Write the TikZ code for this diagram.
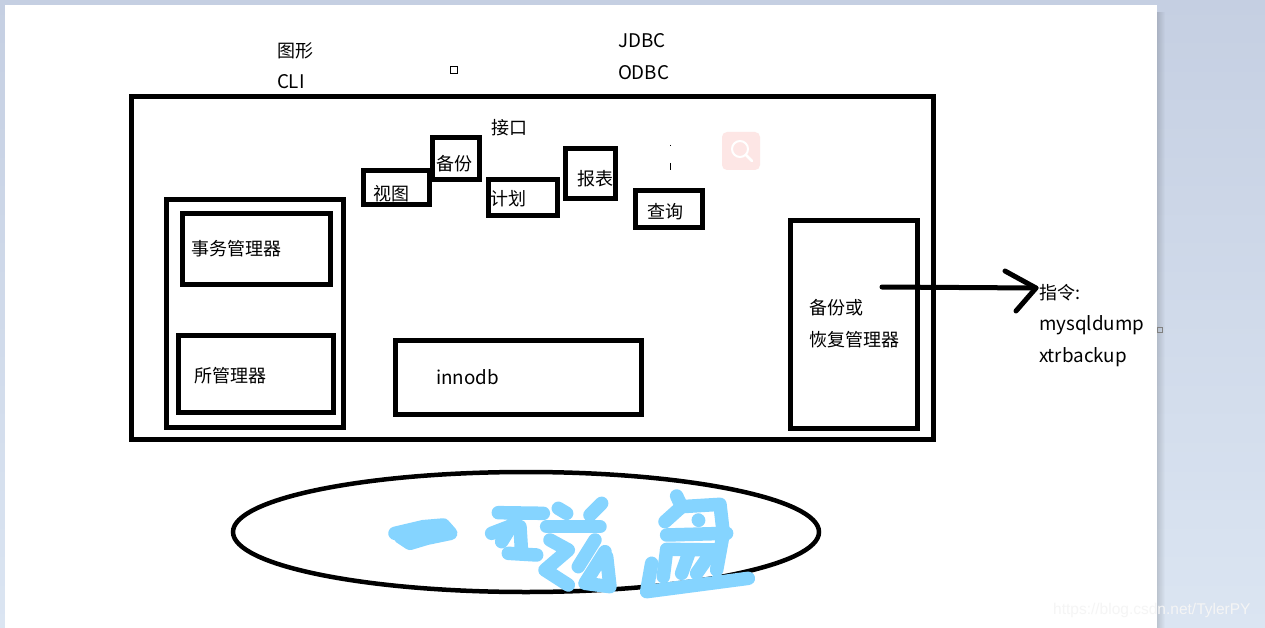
\documentclass[tikz,border=0pt]{standalone}
\usepackage{fontspec}
\setmainfont{Noto Sans CJK SC}
\newfontfamily\wmfont{Liberation Sans}
\definecolor{bgtop}{HTML}{C5CFE2}
\definecolor{bgbot}{HTML}{DBE5F2}
\definecolor{stroke}{HTML}{85D4FF}
\definecolor{pinkbg}{HTML}{FDE6E5}
\tikzset{
  boxn/.style={draw=black,rectangle,inner sep=0pt,outer sep=0pt,line width=#1},
  boxn/.default=5pt,
  lbl/.style={anchor=west,inner sep=0pt,outer sep=0pt,font=\fontsize{18}{18}\selectfont,text=black},
  lat/.style={lbl,font=\fontsize{18.8}{18.8}\selectfont},
  brush/.style={draw=stroke,line width=13.5pt,line cap=round,line join=round},
  pen/.style={draw=black,line width=5pt,line cap=round,line join=round},
}
\newcommand{\pbox}[6]{\node[boxn=#6,minimum width={(#4-#2)*1pt},minimum height={(#5-#3)*1pt}] (#1) at ({(#2+#4)/2},{(#3+#5)/2}) {};}
\begin{document}
\begin{tikzpicture}[x=1pt,y=-1pt]
\useasboundingbox (0,0) rectangle (1265,628);
% window background
\fill[top color=bgtop,bottom color=bgbot] (0,0) rectangle (1265,628);
\fill[white] (5,5) rectangle (1157,628);
\foreach \i in {0,...,7}{
  \fill[black,opacity={0.14*(8-\i)/8}] ({1157+\i},12) rectangle ({1158+\i},628);
}
% boxes
\pbox{outer}{131.5}{97}{933}{439}{5pt}
\pbox{left}{166}{199.5}{343.5}{427.5}{5pt}
\pbox{txn}{182.5}{213.5}{330.5}{284.5}{5pt}
\pbox{lock}{178.5}{335.5}{333.5}{412.5}{5pt}
\pbox{inno}{395.5}{340.5}{641.5}{414}{5pt}
\pbox{backup}{790.5}{220.5}{917.5}{428.5}{5pt}
\pbox{view}{363.5}{170.5}{429.5}{204.5}{5pt}
\pbox{bak}{432.5}{137.5}{479}{179.5}{5pt}
\pbox{plan}{488}{179.5}{557.5}{215.5}{5pt}
\pbox{report}{565.5}{148.5}{615.5}{198.5}{5pt}
\pbox{query}{635.5}{190.5}{702.5}{228}{5pt}
% disk ellipse
\draw[black,line width=4.5pt] (526,532) ellipse [x radius=293,y radius=60];
% labels
\node[lbl] (t1) at (277,50.5) {图形};
\node[lat] (t2) at (277,82) {CLI};
\node[lat] (t3) at (618,41) {JDBC};
\node[lat] (t4) at (618,73) {ODBC};
\node[lbl] (t5) at (491,128) {接口};
\node[lbl] (t6) at (373,194) {视图};
\node[lbl] (t7) at (436,164) {备份};
\node[lbl] (t8) at (490,199) {计划};
\node[lbl] (t9) at (577,179) {报表};
\node[lbl] (t10) at (647,212) {查询};
\node[lbl] (t11) at (191,249) {事务管理器};
\node[lbl] (t12) at (194,376) {所管理器};
\node[lat] (t13) at (436,377) {innodb};
\node[lbl] (t14) at (809,308) {备份或};
\node[lbl] (t15) at (809,340) {恢复管理器};
\node[lbl] (t16) at (1039,293) {指令:};
\node[lat] (t17) at (1039,325) {mysqldump};
\node[lat] (t18) at (1039,357) {xtrbackup};
% hand-drawn arrow
\coordinate (as) at (882,287);
\coordinate (ae) at (1036,288);
\coordinate (h1) at (1005,271);
\coordinate (h2) at (1016,311);
\draw[pen] (as) -- (ae);
\draw[pen] (h1) -- (ae) -- (h2);
% small marks
\draw[black,line width=1pt] (450,67) rectangle (457,74);
\draw[gray,line width=1pt] (1157,327) rectangle (1162,332);
\draw[black,line width=.8pt] (670,145) -- (670,146) (670,163) -- (670,170);
% pink search badge
\fill[pinkbg] (722,132) [rounded corners=5pt] rectangle (760,170);
\draw[white,line width=2pt] (740,149) circle [radius=8];
\draw[white,line width=2.5pt,line cap=round] (746,155) -- (752,161);
% brush strokes, in zoom-crop units
\begin{scope}[shift={(380,470)},x=.3333pt,y=-.3333pt]
\draw[brush] (45,190) -- (130,170) -- (190,165) -- (212,190) -- (140,205) -- (90,220) -- (60,200) -- (120,185);
\draw[brush] (355,128) -- (490,130);
\draw[brush] (335,190) -- (400,165);
\draw[brush] (405,150) -- (365,215);
\draw[brush] (420,170) -- (425,250);
\draw[brush] (385,250) -- (470,255);
\draw[brush] (535,115) -- (560,130);
\draw[brush] (665,100) -- (630,135);
\draw[brush] (500,170) -- (660,170);
\draw[brush] (510,210) -- (565,240) -- (495,300) -- (565,345);
\draw[brush] (645,210) -- (595,290);
\draw[brush] (675,245) -- (615,340) -- (690,350) -- (680,260);
\draw[brush] (890,78) -- (905,110) -- (855,155);
\draw[brush] (905,110) -- (1020,103) -- (1030,190) -- (1010,300);
\draw[brush] (860,195) -- (1040,190);
\draw[brush] (955,150) -- (956,151);
\draw[brush] (860,238) -- (1020,240);
\draw[brush] (860,240) -- (850,320);
\draw[brush] (930,240) -- (905,310);
\draw[brush] (985,260) -- (950,310);
\draw[brush] (815,280) -- (800,365) -- (1105,325);
\end{scope}
% watermark
\node[anchor=west,inner sep=0pt,text=white!92!gray,font={\wmfont\fontsize{15.5}{15.5}\selectfont}] (wm) at (1053,610) {https://blog.csdn.net/TylerPY};
\end{tikzpicture}
\end{document}
